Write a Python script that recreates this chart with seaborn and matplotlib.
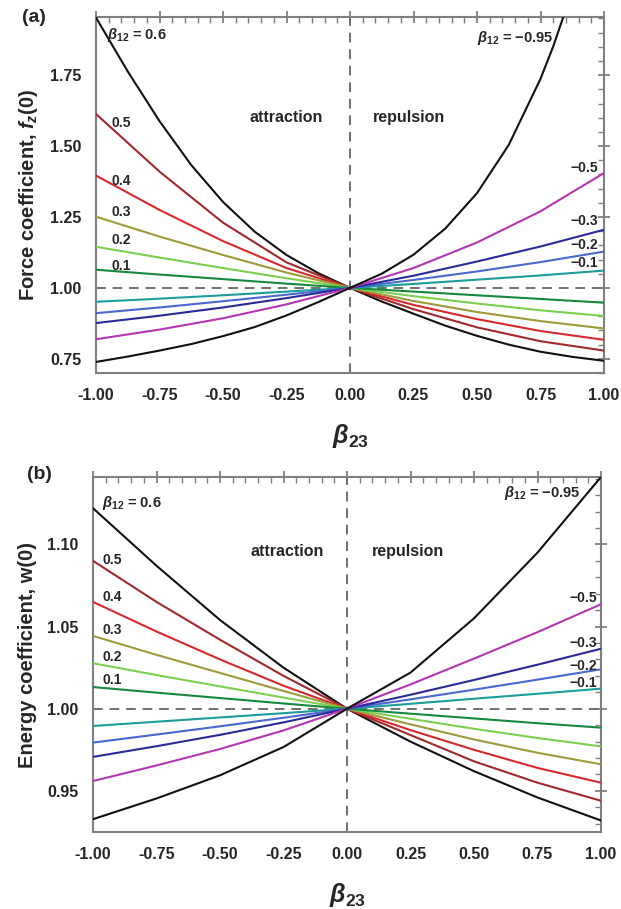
import pandas as pd
import matplotlib
matplotlib.use("Agg")
import matplotlib.pyplot as plt
from matplotlib.ticker import MultipleLocator, FormatStrFormatter
import seaborn as sns

# beta23 grids (x axis)
beta23 = [-1.0, -0.75, -0.5, -0.25, 0.0, 0.25, 0.5, 0.75, 1.0]
beta23_fine = [-1.0, -0.875, -0.75, -0.625, -0.5, -0.375, -0.25, -0.125, 0.0,
               0.125, 0.25, 0.375, 0.5, 0.625, 0.75, 0.875, 1.0]
beta23_steep = [-1.0, -0.875, -0.75, -0.625, -0.5, -0.375, -0.25, -0.125, 0.0,
                0.125, 0.25, 0.375, 0.5, 0.625, 0.75, 0.8, 0.85]

beta12 = ["0.6", "0.5", "0.4", "0.3", "0.2", "0.1", "-0.1", "-0.2", "-0.3", "-0.5", "-0.95"]
line_colors = ["#111111", "#a3282c", "#d8292b", "#9d9b3b", "#7dd04f", "#16893d",
               "#1b9d9b", "#4a68cf", "#2a2a98", "#b535b5", "#111111"]

# (a) force coefficient f_z(0)
force = {
    "0.6": [1.953, 1.763, 1.588, 1.433, 1.303, 1.198, 1.116, 1.052, 1.0,
            0.952, 0.909, 0.867, 0.831, 0.800, 0.775, 0.757, 0.743],
    "0.5": [1.613, 1.41, 1.23, 1.09, 1.0, 0.925, 0.861, 0.812, 0.779],
    "0.4": [1.396, 1.275, 1.165, 1.07, 1.0, 0.94, 0.89, 0.848, 0.817],
    "0.3": [1.251, 1.181, 1.116, 1.054, 1.0, 0.954, 0.915, 0.883, 0.857],
    "0.2": [1.145, 1.107, 1.07, 1.034, 1.0, 0.971, 0.945, 0.921, 0.901],
    "0.1": [1.064, 1.047, 1.031, 1.015, 1.0, 0.987, 0.974, 0.961, 0.948],
    "-0.1": [0.951, 0.962, 0.974, 0.987, 1.0, 1.014, 1.029, 1.044, 1.061],
    "-0.2": [0.911, 0.931, 0.953, 0.976, 1.0, 1.028, 1.058, 1.091, 1.128],
    "-0.3": [0.876, 0.902, 0.931, 0.964, 1.0, 1.043, 1.093, 1.146, 1.205],
    "-0.5": [0.819, 0.853, 0.893, 0.942, 1.0, 1.07, 1.16, 1.27, 1.405],
    "-0.95": [0.739, 0.758, 0.779, 0.802, 0.83, 0.862, 0.903, 0.95, 1.0,
              1.05, 1.117, 1.209, 1.334, 1.504, 1.737, 1.851, 1.982],
}
force_x = {"0.6": beta23_fine, "-0.95": beta23_steep}

# (b) energy coefficient w(0)
energy = {
    "0.6": [1.122, 1.087, 1.054, 1.025, 1.0, 0.98, 0.962, 0.946, 0.932],
    "0.5": [1.090, 1.065, 1.042, 1.02, 1.0, 0.984, 0.968, 0.955, 0.944],
    "0.4": [1.065, 1.047, 1.030, 1.014, 1.0, 0.987, 0.975, 0.964, 0.955],
    "0.3": [1.0443, 1.0328, 1.0218, 1.0108, 1.0, 0.9905, 0.9813, 0.9732, 0.9662],
    "0.2": [1.0277, 1.0205, 1.0136, 1.0068, 1.0, 0.9939, 0.9878, 0.9822, 0.9771],
    "0.1": [1.0132, 1.0098, 1.0065, 1.0032, 1.0, 0.997, 0.9941, 0.9912, 0.9885],
    "-0.1": [0.9895, 0.9921, 0.9947, 0.9973, 1.0, 1.003, 1.0061, 1.0091, 1.0122],
    "-0.2": [0.9794, 0.9843, 0.9893, 0.9945, 1.0, 1.0057, 1.0116, 1.0177, 1.024],
    "-0.3": [0.9707, 0.9772, 0.9841, 0.9917, 1.0, 1.0085, 1.0175, 1.0268, 1.0365],
    "-0.5": [0.956, 0.9655, 0.9755, 0.9868, 1.0, 1.0148, 1.0305, 1.0466, 1.0636],
    "-0.95": [0.9328, 0.9454, 0.9595, 0.9767, 1.0, 1.022, 1.055, 1.095, 1.141],
}
energy_x = {}


def to_long(values, xs):
    rows = []
    for b in beta12:
        for x, y in zip(xs.get(b, beta23), values[b]):
            rows.append({"beta23": x, "value": y, "beta12": b})
    return pd.DataFrame(rows)


sns.set_style("white")
plt.rcParams["font.family"] = ["Liberation Sans", "DejaVu Sans"]
plt.rcParams["font.weight"] = "bold"
plt.rcParams["axes.unicode_minus"] = False
plt.rcParams["mathtext.fontset"] = "custom"
plt.rcParams["mathtext.it"] = "Liberation Sans:italic:bold"
plt.rcParams["mathtext.rm"] = "Liberation Sans:bold"
plt.rcParams["mathtext.bf"] = "Liberation Sans:bold"

palette = dict(zip(beta12, line_colors))
grey = "#808080"
minus = "\u2212"

fig = plt.figure(figsize=(6.21, 9.09), dpi=100)
ax_a = fig.add_axes([96 / 621, 1 - 373 / 909, 508 / 621, 356 / 909])
ax_b = fig.add_axes([93 / 621, 1 - 832 / 909, 508 / 621, 355 / 909])


def style_axes(ax, ylim, ymaj, ymin):
    ax.axhline(1.0, color="#707070", lw=1.4, ls=(0, (5, 3.5)), zorder=1)
    ax.axvline(0.0, color="#707070", lw=1.4, ls=(0, (5, 3.5)), zorder=1)
    ax.set_xlim(-1.0, 1.0)
    ax.set_ylim(*ylim)
    ax.xaxis.set_major_locator(MultipleLocator(0.25))
    ax.xaxis.set_minor_locator(MultipleLocator(0.05))
    ax.yaxis.set_major_locator(MultipleLocator(ymaj))
    ax.yaxis.set_minor_locator(MultipleLocator(ymin))
    ax.xaxis.set_major_formatter(FormatStrFormatter("%.2f"))
    ax.yaxis.set_major_formatter(FormatStrFormatter("%.2f"))
    for s in ax.spines.values():
        s.set_color(grey)
        s.set_linewidth(1.5)
    ax.tick_params(which="major", direction="inout", length=9, width=1.3, color=grey,
                   top=True, right=True, labelsize=11.5, pad=6)
    ax.tick_params(which="minor", direction="in", length=4, width=1.0, color=grey,
                   top=True, right=True)
    for lab in ax.get_xticklabels() + ax.get_yticklabels():
        lab.set_fontweight("bold")
    ax.set_xlabel(r"$\beta_{\mathrm{23}}$", fontsize=18, labelpad=14)


# panel (a)
df_a = to_long(force, force_x)
sns.lineplot(data=df_a, x="beta23", y="value", hue="beta12", hue_order=beta12,
             palette=palette, estimator=None, legend=False, lw=1.5, ax=ax_a, zorder=3)
style_axes(ax_a, (0.70, 1.955), 0.25, 0.05)
ax_a.set_ylabel(r"Force coefficient, $f_z$(0)", fontsize=14.5, fontweight="bold", labelpad=7)

ax_a.text(-0.957, 1.89, r"$\beta_{\mathrm{12}}$ = 0.6", fontsize=10.5, ha="left", va="center")
for lab, y in zip(["0.5", "0.4", "0.3", "0.2", "0.1"], [1.581, 1.377, 1.268, 1.169, 1.077]):
    ax_a.text(-0.94, y, lab, fontsize=10, ha="left", va="center")
for lab, y in zip([minus + "0.5", minus + "0.3", minus + "0.2", minus + "0.1"],
                  [1.423, 1.236, 1.151, 1.088]):
    ax_a.text(0.975, y, lab, fontsize=10, ha="right", va="center")
ax_a.text(0.80, 1.88, r"$\beta_{\mathrm{12}}$ = " + minus + "0.95", fontsize=10.5, ha="right", va="center")
ax_a.text(-0.25, 1.60, "attraction", fontsize=11.5, ha="center", va="center")
ax_a.text(0.232, 1.60, "repulsion", fontsize=11.5, ha="center", va="center")
fig.text(22 / 621, 1 - 17 / 909, "(a)", fontsize=14, fontweight="bold", ha="left", va="center")

# panel (b)
df_b = to_long(energy, energy_x)
sns.lineplot(data=df_b, x="beta23", y="value", hue="beta12", hue_order=beta12,
             palette=palette, estimator=None, legend=False, lw=1.5, ax=ax_b, zorder=3)
style_axes(ax_b, (0.925, 1.141), 0.05, 0.01)
ax_b.set_ylabel("Energy coefficient, w(0)", fontsize=14.5, fontweight="bold", labelpad=7)

ax_b.text(-0.963, 1.125, r"$\beta_{\mathrm{12}}$ = 0.6", fontsize=10.5, ha="left", va="center")
for lab, y in zip(["0.5", "0.4", "0.3", "0.2", "0.1"], [1.0903, 1.068, 1.0478, 1.0316, 1.0174]):
    ax_b.text(-0.963, y, lab, fontsize=10, ha="left", va="center")
for lab, y in zip([minus + "0.5", minus + "0.3", minus + "0.2", minus + "0.1"],
                  [1.0672, 1.040, 1.026, 1.0156]):
    ax_b.text(0.985, y, lab, fontsize=10, ha="right", va="center")
ax_b.text(0.918, 1.131, r"$\beta_{\mathrm{12}}$ = " + minus + "0.95", fontsize=10.5, ha="right", va="center")
ax_b.text(-0.234, 1.0954, "attraction", fontsize=11.5, ha="center", va="center")
ax_b.text(0.242, 1.0954, "repulsion", fontsize=11.5, ha="center", va="center")
fig.text(27 / 621, 1 - 475 / 909, "(b)", fontsize=14, fontweight="bold", ha="left", va="center")

fig.savefig("out.png", dpi=100)
